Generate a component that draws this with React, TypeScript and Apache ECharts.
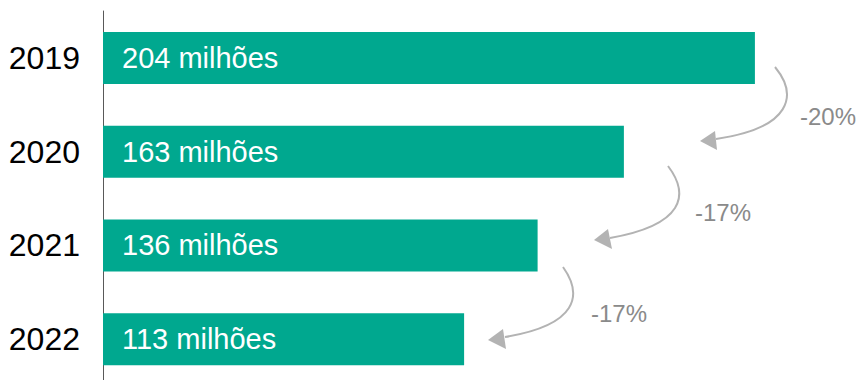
import React, { useEffect, useRef } from "react";
import * as echarts from "echarts";

const categories = ["2019", "2020", "2021", "2022"];
const values = [204, 163, 136, 113];
const barLabels = ["204 milhões", "163 milhões", "136 milhões", "113 milhões"];
const changeLabels = ["-20%", "-17%", "-17%"];

const ARROW_COLOR = "#b3b3b3";
const TEXT_GRAY = "#8a8a8a";

// annotation geometry (pixel space)
const arrows = [
  { p0: [775, 67], p1: [798, 95], p2: [792, 128], p3: [716, 139], tip: [700, 141], b1: [715, 131], b2: [717, 150], tx: 800, ty: 116 },
  { p0: [668, 166], p1: [690, 195], p2: [684, 225], p3: [610, 238], tip: [594, 240], b1: [608, 229], b2: [612, 249], tx: 695, ty: 212 },
  { p0: [563, 267], p1: [583, 295], p2: [578, 325], p3: [505, 337], tip: [488, 340], b1: [503, 329], b2: [506, 349], tx: 591, ty: 313 },
];

export default function App() {
  const ref = useRef<HTMLDivElement>(null);
  useEffect(() => {
    if (!ref.current) return;
    const chart = echarts.init(ref.current, null, { renderer: "svg" });
    const graphic: any[] = [];
    arrows.forEach((a, i) => {
      graphic.push({
        type: "bezierCurve",
        shape: {
          x1: a.p0[0], y1: a.p0[1],
          cpx1: a.p1[0], cpy1: a.p1[1],
          cpx2: a.p2[0], cpy2: a.p2[1],
          x2: a.p3[0], y2: a.p3[1],
        },
        style: { stroke: ARROW_COLOR, lineWidth: 2, fill: null },
        silent: true,
      });
      graphic.push({
        type: "polygon",
        shape: { points: [a.tip, a.b1, a.b2] },
        style: { fill: ARROW_COLOR, stroke: null },
        silent: true,
      });
      graphic.push({
        type: "text",
        x: a.tx,
        y: a.ty,
        style: {
          text: changeLabels[i],
          fill: TEXT_GRAY,
          fontSize: 24,
          fontFamily: "Liberation Sans, Arial, sans-serif",
          verticalAlign: "middle",
          align: "left",
        },
        silent: true,
      });
    });
    chart.setOption({
      animation: false,
      grid: {
        left: 103,
        top: 11,
        width: 735,
        height: 375,
        containLabel: false,
        outerBoundsMode: "none",
      },
      xAxis: {
        type: "value",
        min: 0,
        max: 230,
        show: false,
      },
      yAxis: {
        type: "category",
        data: categories,
        inverse: true,
        axisLine: { show: true, lineStyle: { color: "#595959", width: 1 } },
        axisTick: { show: false },
        axisLabel: {
          color: "#000000",
          fontSize: 32,
          margin: 23,
          fontFamily: "Liberation Sans, Arial, sans-serif",
        },
        splitLine: { show: false },
      },
      series: [
        {
          type: "bar",
          data: values,
          barWidth: 52,
          itemStyle: { color: "#00A88F" },
          label: {
            show: true,
            position: "insideLeft",
            distance: 19,
            color: "#ffffff",
            fontSize: 29,
            fontFamily: "Liberation Sans, Arial, sans-serif",
            formatter: (p: any) => barLabels[p.dataIndex],
          },
          z: 2,
        },
      ],
      graphic,
    });
    return () => chart.dispose();
  }, []);
  return (
    <div
      ref={ref}
      style={{ position: "fixed", left: 0, top: 0, width: 859, height: 380, background: "#ffffff" }}
    />
  );
}
